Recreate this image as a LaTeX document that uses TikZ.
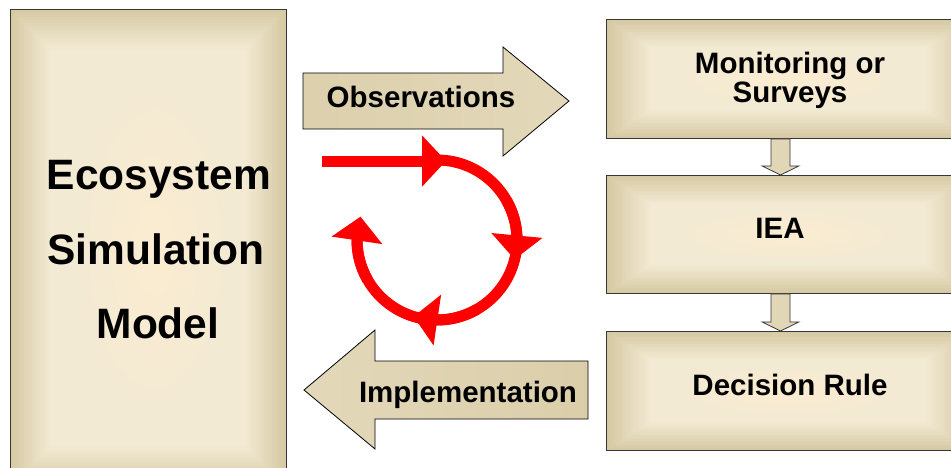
\documentclass[tikz,border=0pt]{standalone}
\usepackage{fontspec}
\setmainfont{Liberation Sans}
\usetikzlibrary{arrows.meta,bending,calc}
\definecolor{tanE}{RGB}{214,201,163}
\definecolor{tanM}{RGB}{242,234,211}
\definecolor{tanC}{RGB}{251,236,209}
\definecolor{boxline}{RGB}{55,55,55}
\begin{document}
\begin{tikzpicture}[x=1pt,y=-1pt,
  gradbox/.style 2 args={draw=boxline, line width=0.9pt, inner sep=0pt, anchor=north west,
    path picture={
      \foreach \i [evaluate=\i as \p using int(100-5*\i)] in {0,...,20}{
        \fill[tanE!\p!tanM] ([shift={(\i*#1,-\i*#2)}]path picture bounding box.north west)
          rectangle ([shift={(-\i*#1,\i*#2)}]path picture bounding box.south east);
      }
    }},
  glow/.style={inner color=tanC, outer color=tanM},
  bigarrow/.style={draw=black, line width=0.8pt, line join=miter,
    left color=tanE!80!tanM, middle color=tanC, right color=tanE!55!tanM},
  bigarrowL/.style={draw=black, line width=0.8pt, line join=miter,
    left color=tanE!55!tanM, middle color=tanC, right color=tanE!85!tanM},
  smallarrow/.style={draw=boxline, line width=0.8pt,
    left color=tanE!60!tanM, middle color=tanC, right color=tanE!60!tanM},
  redline/.style={draw=red, line width=11pt},
  redtip/.style={draw=red, line width=11pt, -{Triangle[length=24pt,width=50pt]}},
  lbl/.style={anchor=base, inner sep=0pt, font=\bfseries\fontsize{29.5}{32}\selectfont},
  biglbl/.style={anchor=base, inner sep=0pt, font=\bfseries\fontsize{42.5}{50}\selectfont}
]
\useasboundingbox (0,0) rectangle (951,467);
\fill[white] (0,0) rectangle (951,467);

% boxes
\node[gradbox={2pt}{2pt}, minimum width=276pt, minimum height=478pt] (esm) at (10,9) {};
\node[gradbox={2.2pt}{1.4pt}, minimum width=364pt, minimum height=119pt] (mon) at (606,19) {};
\node[gradbox={2.2pt}{1.4pt}, minimum width=364pt, minimum height=118pt] (iea) at (606,175) {};
\node[gradbox={2.2pt}{1.4pt}, minimum width=364pt, minimum height=119pt] (dec) at (606,331) {};
\shade[glow] ($(esm.center)+(6,0)$) ellipse [x radius=88pt, y radius=185pt];
\shade[glow] ($(mon.center)+(0,0)$) ellipse [x radius=125pt, y radius=29pt];
\shade[glow] ($(iea.center)+(0,0)$) ellipse [x radius=125pt, y radius=29pt];
\shade[glow] ($(dec.center)+(0,0)$) ellipse [x radius=125pt, y radius=29pt];

% small down arrows
\draw[smallarrow] ($(mon.south west)+(165,0)$) -- ($(mon.south west)+(165,27)$)
  -- ($(mon.south west)+(156,27)$) -- ($(iea.north west)+(174.5,0)$)
  -- ($(mon.south west)+(193,27)$) -- ($(mon.south west)+(184,27)$)
  -- ($(mon.south west)+(184,0)$) -- cycle;
\draw[smallarrow] ($(iea.south west)+(165,0)$) -- ($(iea.south west)+(165,28)$)
  -- ($(iea.south west)+(156,28)$) -- ($(dec.north west)+(174.5,0)$)
  -- ($(iea.south west)+(193,28)$) -- ($(iea.south west)+(184,28)$)
  -- ($(iea.south west)+(184,0)$) -- cycle;

% big arrows
\draw[bigarrow] (303,73) -- (503,73) -- (503,47) -- (569,101) -- (503,156) -- (503,129) -- (303,129) -- cycle;
\draw[bigarrowL] (304,390) -- (375,330) -- (375,361) -- (588,361) -- (588,419) -- (375,419) -- (375,449) -- cycle;

% red cycle
\coordinate (ctr) at (437,240);
\coordinate (r0) at (322,161);
\coordinate (r1) at (446,161);
\draw[redtip] (r0) -- (r1);
\draw[redline] ([shift={(90:80pt)}]ctr) arc[start angle=90, end angle=-180, radius=80pt];
\draw[redtip] ([shift={(30:80pt)}]ctr) arc[start angle=30, end angle=-14, radius=80pt];
\draw[redtip] ([shift={(-60:80pt)}]ctr) arc[start angle=-60, end angle=-107, radius=80pt];
\draw[redtip] ([shift={(-150:80pt)}]ctr) arc[start angle=-150, end angle=-197, radius=80pt];

% labels
\node[biglbl] (t1) at (159,189) {Ecosystem};
\node[biglbl] (t2) at (156,264) {Simulation};
\node[biglbl] (t3) at (158,338) {Model};
\node[lbl] (ml1) at (790,73) {Monitoring or};
\node[lbl] (ml2) at (790,102) {Surveys};
\node[lbl] (il) at (780,238) {IEA};
\node[lbl] (dl) at (790,395) {Decision Rule};
\node[lbl] (ol) at (421,107) {Observations};
\node[lbl] (pl) at (468,402) {Implementation};
\end{tikzpicture}
\end{document}
